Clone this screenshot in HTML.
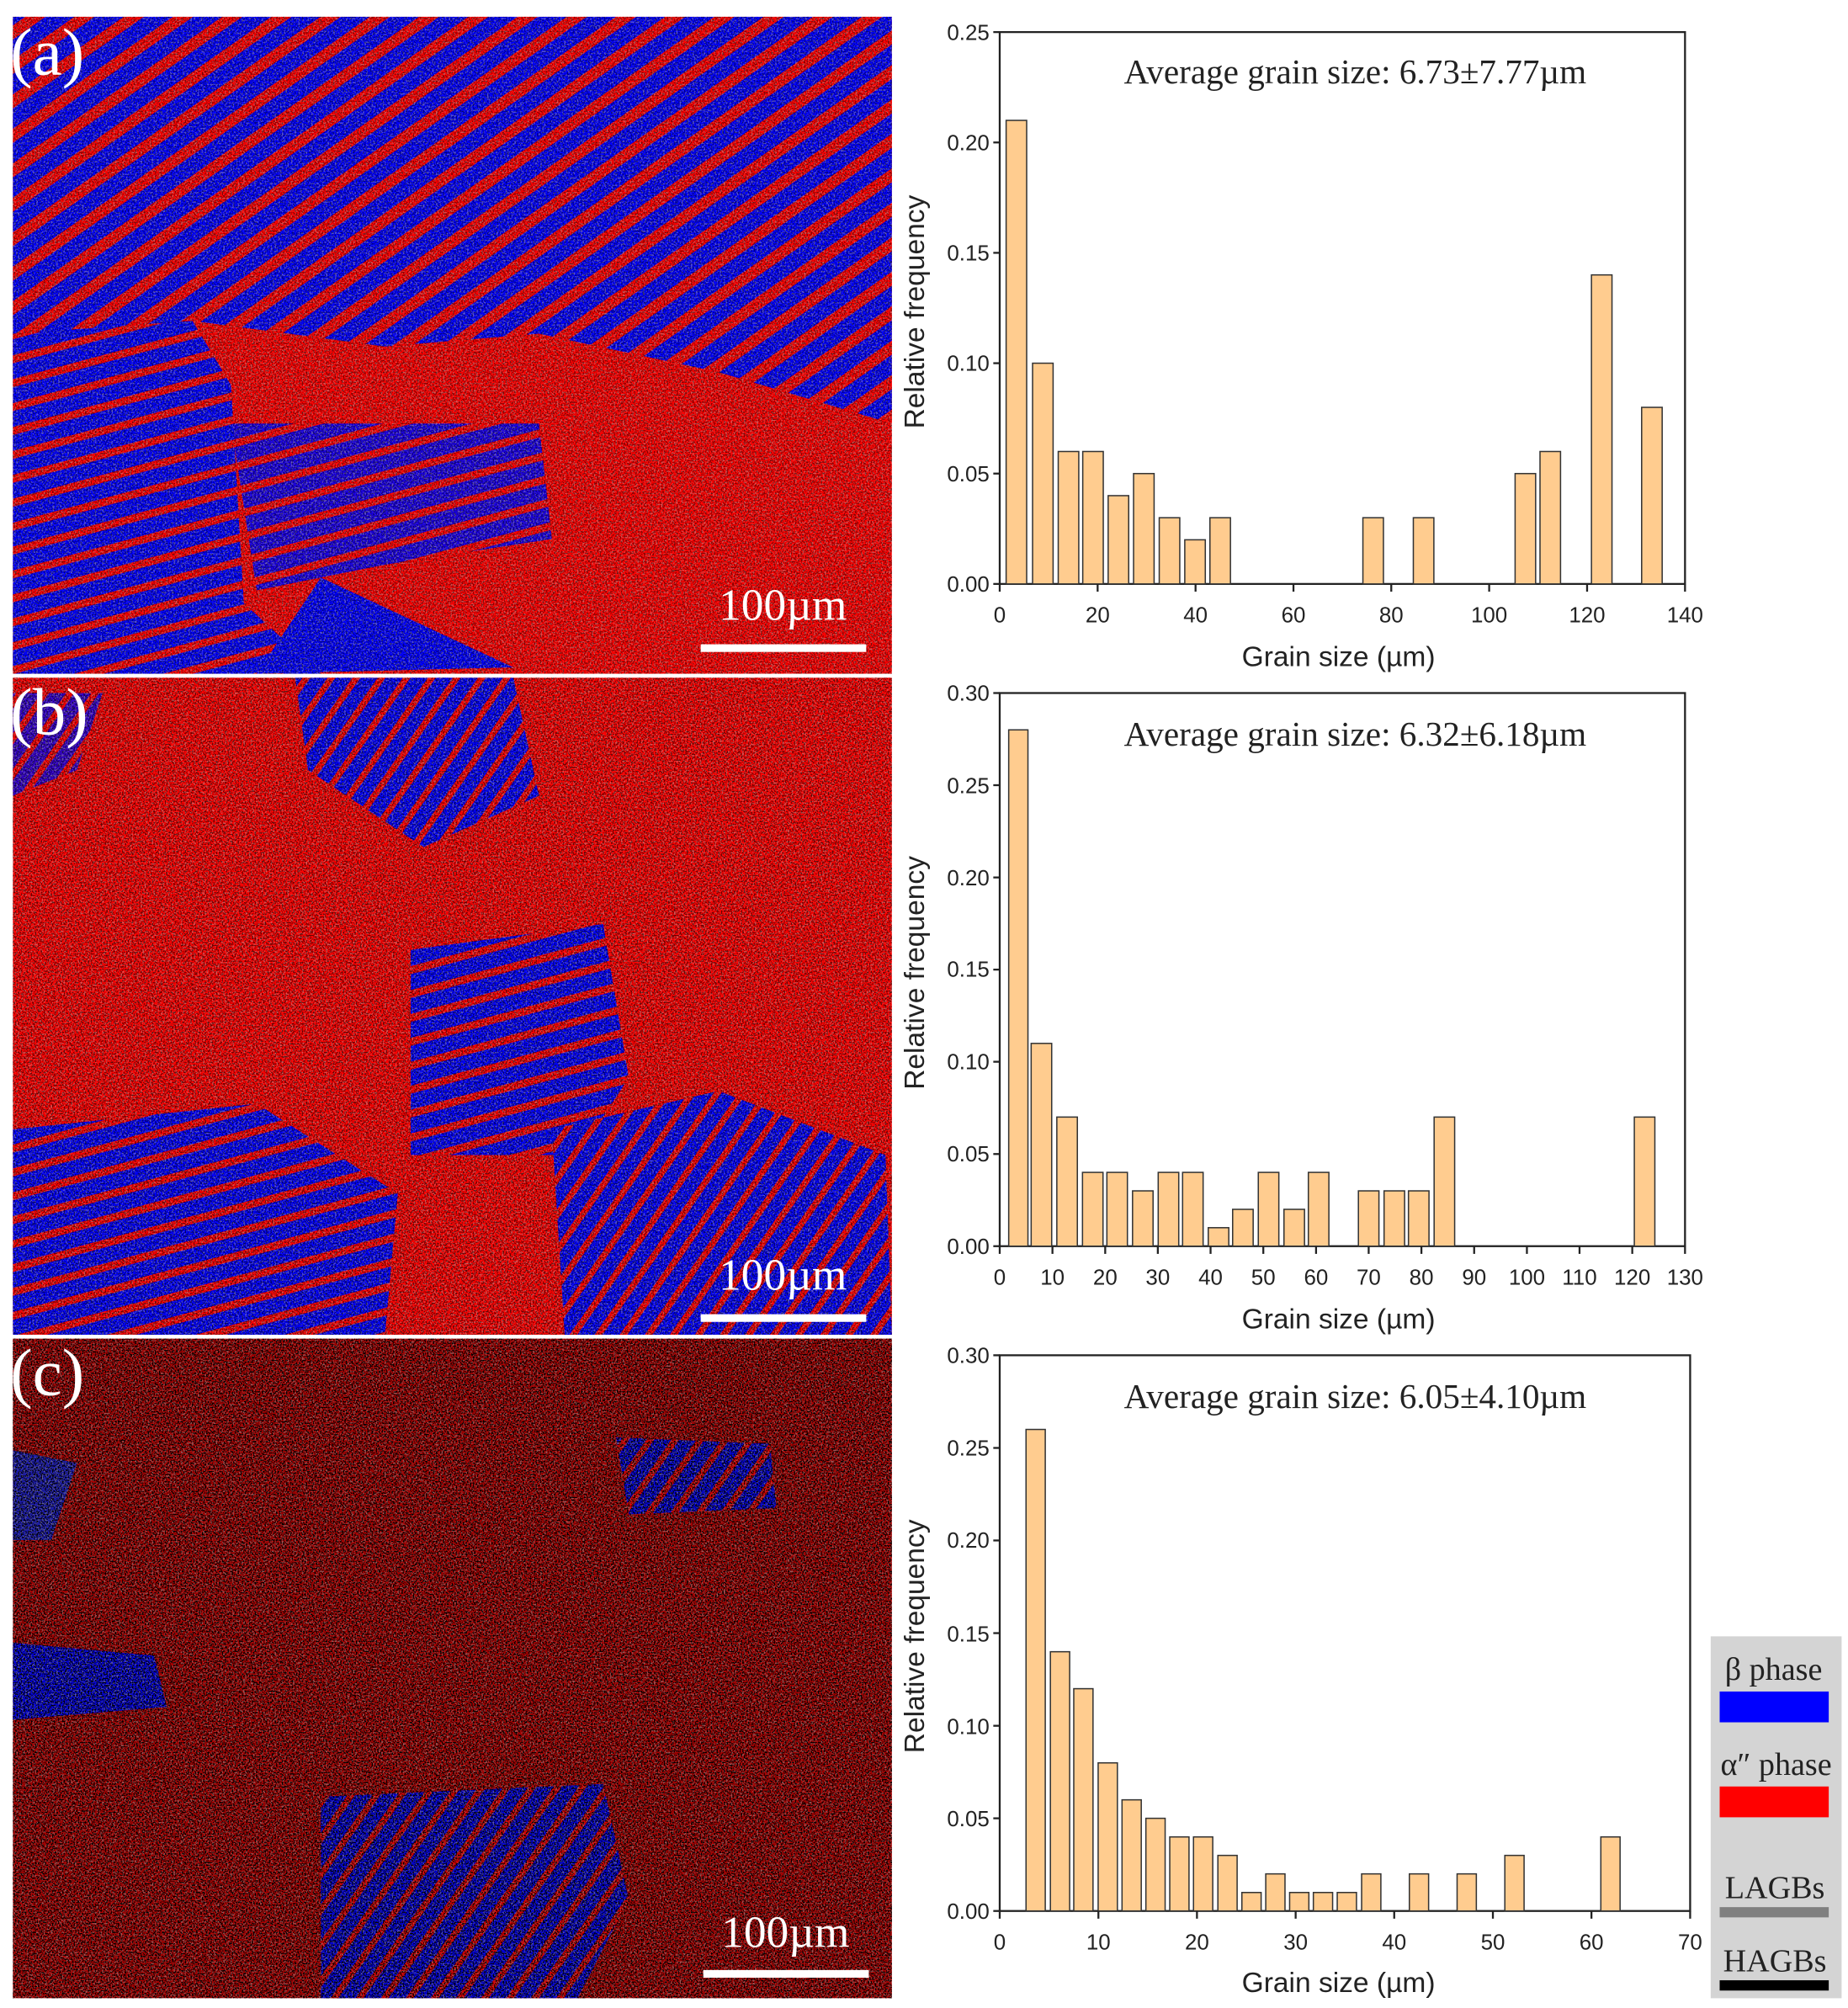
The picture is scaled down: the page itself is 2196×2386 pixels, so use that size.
<!DOCTYPE html>
<html><head><meta charset="utf-8"><style>
html,body{margin:0;padding:0;background:#fff;}
svg{display:block;}
.t{font-family:"Liberation Sans",Arial,sans-serif;font-size:17px;fill:#222;}
.at{font-family:"Liberation Sans",Arial,sans-serif;font-size:22px;fill:#222;}
.avg{font-family:"Liberation Serif","Times New Roman",serif;font-size:27px;fill:#222;}
.pl{font-family:"Liberation Serif",serif;font-size:52px;fill:#fff;}
.sb{font-family:"Liberation Serif",serif;font-size:35px;fill:#fff;}
.lg{font-family:"Liberation Serif",serif;font-size:25px;fill:#222;}
.bar{fill:#ffcc8f;stroke:#333;stroke-width:1;}
</style></head><body>
<svg width="2196" height="2386" viewBox="0 0 1440 1564.6" preserveAspectRatio="none" xmlns="http://www.w3.org/2000/svg">
<defs>
<pattern id="sA" width="22" height="22" patternUnits="userSpaceOnUse" patternTransform="rotate(55)">
<rect width="22" height="22" fill="#0000ff"/><rect width="9" height="22" fill="#ff0000"/></pattern>
<pattern id="sB" width="18" height="18" patternUnits="userSpaceOnUse" patternTransform="rotate(-15)">
<rect width="18" height="18" fill="#0000ff"/><rect width="18" height="6" fill="#ff0000"/></pattern>
<pattern id="sC" width="16" height="16" patternUnits="userSpaceOnUse" patternTransform="rotate(35)">
<rect width="16" height="16" fill="#0000ff"/><rect width="5" height="16" fill="#ff0000"/></pattern>
<filter id="nz" x="0" y="0" width="100%" height="100%">
<feTurbulence type="fractalNoise" baseFrequency="0.9" numOctaves="2" seed="3"/>
<feColorMatrix type="matrix" values="0 0 0 0 0  0 0 0 0 0  0 0 0 0 0  0 0 0 -6 3.2"/>
</filter>
<filter id="nz2" x="0" y="0" width="100%" height="100%">
<feTurbulence type="fractalNoise" baseFrequency="0.7" numOctaves="2" seed="7"/>
<feColorMatrix type="matrix" values="0 0 0 0 0.45  0 0 0 0 0.4  0 0 0 0 0.4  0 0 0 -6 3.0"/>
</filter>
<clipPath id="ca"><rect x="10" y="13" width="685" height="512"/></clipPath>
<clipPath id="cb"><rect x="10" y="528" width="685" height="512"/></clipPath>
<clipPath id="cc"><rect x="10" y="1043" width="685" height="514"/></clipPath>
</defs>

<!-- Panel a -->
<g clip-path="url(#ca)">
<rect x="10" y="13" width="685" height="512" fill="#ff0000"/>
<polygon points="10,13 695,13 695,330 560,290 420,260 300,270 150,250 10,300" fill="url(#sA)"/>
<polygon points="10,260 150,250 180,300 190,470 250,525 10,525" fill="url(#sB)"/>
<polygon points="180,330 420,330 430,420 300,440 200,460" fill="url(#sB)" opacity="0.9"/>
<polygon points="250,450 400,520 200,525" fill="#0000ff"/>
<rect x="10" y="13" width="685" height="512" filter="url(#nz2)" opacity="0.5"/>
<rect x="10" y="13" width="685" height="512" filter="url(#nz)" opacity="0.5"/>
</g>
<!-- Panel b -->
<g clip-path="url(#cb)">
<rect x="10" y="528" width="685" height="512" fill="#ff0000"/>
<polygon points="230,528 400,528 420,620 330,660 240,600" fill="url(#sC)"/>
<polygon points="320,740 470,720 490,840 450,900 320,900" fill="url(#sB)"/>
<polygon points="10,880 200,860 310,930 300,1040 10,1040" fill="url(#sB)"/>
<polygon points="430,880 560,850 690,900 695,1040 440,1040" fill="url(#sC)"/>
<polygon points="10,540 80,540 60,600 10,620" fill="url(#sC)" opacity="0.8"/>
<rect x="10" y="528" width="685" height="512" filter="url(#nz2)" opacity="0.5"/>
<rect x="10" y="528" width="685" height="512" filter="url(#nz)" opacity="0.6"/>
</g>
<!-- Panel c -->
<g clip-path="url(#cc)">
<rect x="10" y="1043" width="685" height="514" fill="#c80000"/>
<polygon points="250,1400 470,1390 490,1480 450,1557 250,1557" fill="url(#sC)"/>
<polygon points="10,1280 120,1290 130,1330 10,1340" fill="#0000ff"/>
<polygon points="480,1120 600,1125 605,1175 490,1180" fill="url(#sC)"/>
<polygon points="10,1130 60,1140 40,1200 10,1200" fill="#2020d0"/>
<rect x="10" y="1043" width="685" height="514" filter="url(#nz2)" opacity="0.6"/>
<rect x="10" y="1043" width="685" height="514" filter="url(#nz)" opacity="1"/>
<rect x="10" y="1043" width="685" height="514" fill="#000" opacity="0.15"/>
</g>
<line x1="10" y1="526.5" x2="695" y2="526.5" stroke="#fff" stroke-width="2"/>
<line x1="10" y1="1041.5" x2="695" y2="1041.5" stroke="#fff" stroke-width="2"/>
<text class="pl" x="8" y="58">(a)</text>
<text class="pl" x="8" y="572">(b)</text>
<text class="pl" x="8" y="1087">(c)</text>
<text class="sb" x="610" y="483" text-anchor="middle">100µm</text>
<rect x="546" y="502" width="129" height="6" fill="#fff"/>
<text class="sb" x="610" y="1005" text-anchor="middle">100µm</text>
<rect x="546" y="1024" width="129" height="6" fill="#fff"/>
<text class="sb" x="612" y="1517" text-anchor="middle">100µm</text>
<rect x="548" y="1535" width="129" height="6" fill="#fff"/>

<!-- Chart a -->
<g>
<rect x="779" y="25" width="534" height="430" fill="#fff" stroke="#222" stroke-width="1.5"/>
<g class="bar">
<rect x="784" y="93.8" width="16" height="361.2"/>
<rect x="804.6" y="283" width="16" height="172"/>
<rect x="824.6" y="351.8" width="16" height="103.2"/>
<rect x="843.7" y="351.8" width="16" height="103.2"/>
<rect x="863.5" y="386.2" width="16" height="68.8"/>
<rect x="883.3" y="369" width="16" height="86"/>
<rect x="903.3" y="403.4" width="16" height="51.6"/>
<rect x="923.2" y="420.6" width="16" height="34.4"/>
<rect x="942.8" y="403.4" width="16" height="51.6"/>
<rect x="1062" y="403.4" width="16" height="51.6"/>
<rect x="1101.3" y="403.4" width="16" height="51.6"/>
<rect x="1180.6" y="369" width="16" height="86"/>
<rect x="1200" y="351.8" width="16" height="103.2"/>
<rect x="1240.1" y="214.2" width="16" height="240.8"/>
<rect x="1279.2" y="317.4" width="16" height="137.6"/>
</g>
<g stroke="#222" stroke-width="1.5">
<line x1="779" y1="455" x2="774" y2="455"/><line x1="779" y1="369" x2="774" y2="369"/><line x1="779" y1="283" x2="774" y2="283"/><line x1="779" y1="197" x2="774" y2="197"/><line x1="779" y1="111" x2="774" y2="111"/><line x1="779" y1="25" x2="774" y2="25"/>
<line x1="779" y1="455" x2="779" y2="461"/><line x1="855.3" y1="455" x2="855.3" y2="461"/><line x1="931.6" y1="455" x2="931.6" y2="461"/><line x1="1007.9" y1="455" x2="1007.9" y2="461"/><line x1="1084.1" y1="455" x2="1084.1" y2="461"/><line x1="1160.4" y1="455" x2="1160.4" y2="461"/><line x1="1236.7" y1="455" x2="1236.7" y2="461"/><line x1="1313" y1="455" x2="1313" y2="461"/>
</g>
<g class="t" text-anchor="end">
<text x="771" y="461">0.00</text><text x="771" y="375">0.05</text><text x="771" y="289">0.10</text><text x="771" y="203">0.15</text><text x="771" y="117">0.20</text><text x="771" y="31">0.25</text>
</g>
<g class="t" text-anchor="middle">
<text x="779" y="485">0</text><text x="855.3" y="485">20</text><text x="931.6" y="485">40</text><text x="1007.9" y="485">60</text><text x="1084.1" y="485">80</text><text x="1160.4" y="485">100</text><text x="1236.7" y="485">120</text><text x="1313" y="485">140</text>
</g>
<text class="at" x="1043" y="519" text-anchor="middle">Grain size  (µm)</text>
<text class="at" transform="translate(720,243) rotate(-90)" text-anchor="middle">Relative frequency</text>
<text class="avg" x="1056" y="65" text-anchor="middle">Average grain size: 6.73±7.77µm</text>
</g>

<!-- Chart b -->
<g>
<rect x="779" y="540" width="534" height="431" fill="#fff" stroke="#222" stroke-width="1.5"/>
<g class="bar">
<rect x="786" y="568.7" width="15" height="402.3"/>
<rect x="803.5" y="813" width="16" height="158"/>
<rect x="823.5" y="870.4" width="16" height="100.6"/>
<rect x="843.5" y="913.5" width="16" height="57.5"/>
<rect x="862.5" y="913.5" width="16" height="57.5"/>
<rect x="882.5" y="927.9" width="16" height="43.1"/>
<rect x="902.5" y="913.5" width="16" height="57.5"/>
<rect x="921.5" y="913.5" width="16" height="57.5"/>
<rect x="941.5" y="956.6" width="16" height="14.4"/>
<rect x="960.5" y="942.3" width="16" height="28.7"/>
<rect x="980.5" y="913.5" width="16" height="57.5"/>
<rect x="1000.5" y="942.3" width="16" height="28.7"/>
<rect x="1019.5" y="913.5" width="16" height="57.5"/>
<rect x="1058.5" y="927.9" width="16" height="43.1"/>
<rect x="1078.5" y="927.9" width="16" height="43.1"/>
<rect x="1097.5" y="927.9" width="16" height="43.1"/>
<rect x="1117.5" y="870.4" width="16" height="100.6"/>
<rect x="1273.5" y="870.4" width="16" height="100.6"/>
</g>
<g stroke="#222" stroke-width="1.5">
<line x1="779" y1="971" x2="774" y2="971"/><line x1="779" y1="899.2" x2="774" y2="899.2"/><line x1="779" y1="827.3" x2="774" y2="827.3"/><line x1="779" y1="755.5" x2="774" y2="755.5"/><line x1="779" y1="683.7" x2="774" y2="683.7"/><line x1="779" y1="611.8" x2="774" y2="611.8"/><line x1="779" y1="540" x2="774" y2="540"/>
</g>
<g stroke="#222" stroke-width="1.5">
<line x1="779" y1="971" x2="779" y2="977"/><line x1="820.1" y1="971" x2="820.1" y2="977"/><line x1="861.2" y1="971" x2="861.2" y2="977"/><line x1="902.2" y1="971" x2="902.2" y2="977"/><line x1="943.3" y1="971" x2="943.3" y2="977"/><line x1="984.4" y1="971" x2="984.4" y2="977"/><line x1="1025.5" y1="971" x2="1025.5" y2="977"/><line x1="1066.5" y1="971" x2="1066.5" y2="977"/><line x1="1107.6" y1="971" x2="1107.6" y2="977"/><line x1="1148.7" y1="971" x2="1148.7" y2="977"/><line x1="1189.8" y1="971" x2="1189.8" y2="977"/><line x1="1230.8" y1="971" x2="1230.8" y2="977"/><line x1="1271.9" y1="971" x2="1271.9" y2="977"/><line x1="1313" y1="971" x2="1313" y2="977"/>
</g>
<g class="t" text-anchor="end">
<text x="771" y="977">0.00</text><text x="771" y="905">0.05</text><text x="771" y="833">0.10</text><text x="771" y="761">0.15</text><text x="771" y="690">0.20</text><text x="771" y="618">0.25</text><text x="771" y="546">0.30</text>
</g>
<g class="t" text-anchor="middle">
<text x="779" y="1001">0</text><text x="820.1" y="1001">10</text><text x="861.2" y="1001">20</text><text x="902.2" y="1001">30</text><text x="943.3" y="1001">40</text><text x="984.4" y="1001">50</text><text x="1025.5" y="1001">60</text><text x="1066.5" y="1001">70</text><text x="1107.6" y="1001">80</text><text x="1148.7" y="1001">90</text><text x="1189.8" y="1001">100</text><text x="1230.8" y="1001">110</text><text x="1271.9" y="1001">120</text><text x="1313" y="1001">130</text>
</g>
<text class="at" x="1043" y="1035" text-anchor="middle">Grain size  (µm)</text>
<text class="at" transform="translate(720,758) rotate(-90)" text-anchor="middle">Relative frequency</text>
<text class="avg" x="1056" y="581" text-anchor="middle">Average grain size: 6.32±6.18µm</text>
</g>

<!-- Chart c -->
<g>
<rect x="779" y="1056" width="538" height="433" fill="#fff" stroke="#222" stroke-width="1.5"/>
<g class="bar">
<rect x="799.5" y="1113.8" width="15" height="375.2"/>
<rect x="818.5" y="1287" width="15" height="202"/>
<rect x="836.7" y="1315.8" width="15" height="173.2"/>
<rect x="855.7" y="1373.6" width="15" height="115.4"/>
<rect x="874.3" y="1402.4" width="15" height="86.6"/>
<rect x="892.9" y="1416.8" width="15" height="72.2"/>
<rect x="911.5" y="1431.3" width="15" height="57.7"/>
<rect x="930" y="1431.3" width="15" height="57.7"/>
<rect x="949" y="1445.7" width="15" height="43.3"/>
<rect x="967.7" y="1474.6" width="15" height="14.4"/>
<rect x="986.3" y="1460.1" width="15" height="28.9"/>
<rect x="1004.9" y="1474.6" width="15" height="14.4"/>
<rect x="1023.4" y="1474.6" width="15" height="14.4"/>
<rect x="1042" y="1474.6" width="15" height="14.4"/>
<rect x="1061" y="1460.1" width="15" height="28.9"/>
<rect x="1098.2" y="1460.1" width="15" height="28.9"/>
<rect x="1135.4" y="1460.1" width="15" height="28.9"/>
<rect x="1172.6" y="1445.7" width="15" height="43.3"/>
<rect x="1247.4" y="1431.3" width="15" height="57.7"/>
</g>
<g stroke="#222" stroke-width="1.5">
<line x1="779" y1="1489" x2="774" y2="1489"/><line x1="779" y1="1416.8" x2="774" y2="1416.8"/><line x1="779" y1="1344.7" x2="774" y2="1344.7"/><line x1="779" y1="1272.5" x2="774" y2="1272.5"/><line x1="779" y1="1200.3" x2="774" y2="1200.3"/><line x1="779" y1="1128.2" x2="774" y2="1128.2"/><line x1="779" y1="1056" x2="774" y2="1056"/>
<line x1="779" y1="1489" x2="779" y2="1495"/><line x1="855.9" y1="1489" x2="855.9" y2="1495"/><line x1="932.7" y1="1489" x2="932.7" y2="1495"/><line x1="1009.6" y1="1489" x2="1009.6" y2="1495"/><line x1="1086.4" y1="1489" x2="1086.4" y2="1495"/><line x1="1163.3" y1="1489" x2="1163.3" y2="1495"/><line x1="1240.1" y1="1489" x2="1240.1" y2="1495"/><line x1="1317" y1="1489" x2="1317" y2="1495"/>
</g>
<g class="t" text-anchor="end">
<text x="771" y="1495">0.00</text><text x="771" y="1423">0.05</text><text x="771" y="1351">0.10</text><text x="771" y="1279">0.15</text><text x="771" y="1206">0.20</text><text x="771" y="1134">0.25</text><text x="771" y="1062">0.30</text>
</g>
<g class="t" text-anchor="middle">
<text x="779" y="1519">0</text><text x="855.9" y="1519">10</text><text x="932.7" y="1519">20</text><text x="1009.6" y="1519">30</text><text x="1086.4" y="1519">40</text><text x="1163.3" y="1519">50</text><text x="1240.1" y="1519">60</text><text x="1317" y="1519">70</text>
</g>
<text class="at" x="1043" y="1552" text-anchor="middle">Grain size  (µm)</text>
<text class="at" transform="translate(720,1275) rotate(-90)" text-anchor="middle">Relative frequency</text>
<text class="avg" x="1056" y="1097" text-anchor="middle">Average grain size: 6.05±4.10µm</text>
</g>

<!-- Legend -->
<rect x="1333" y="1275" width="102" height="282" fill="#d4d4d4"/>
<text class="lg" x="1382" y="1309" text-anchor="middle">β phase</text>
<rect x="1340" y="1318" width="85" height="24" fill="#0000ff"/>
<text class="lg" x="1384" y="1383" text-anchor="middle">α″ phase</text>
<rect x="1340" y="1392" width="85" height="24" fill="#ff0000"/>
<text class="lg" x="1383" y="1479" text-anchor="middle">LAGBs</text>
<rect x="1340" y="1486" width="85" height="8" fill="#808080"/>
<text class="lg" x="1383" y="1536" text-anchor="middle">HAGBs</text>
<rect x="1340" y="1543" width="85" height="8" fill="#000"/>
</svg>
</body></html>
